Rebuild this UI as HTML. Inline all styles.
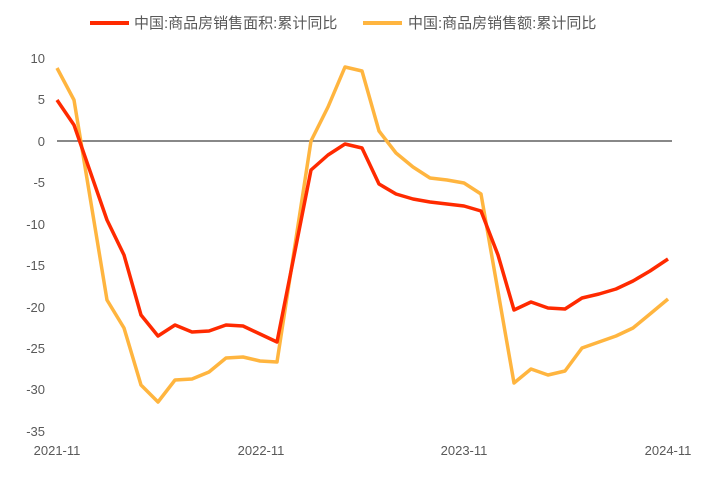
<!DOCTYPE html>
<html><head><meta charset="utf-8"><style>
body{margin:0;background:#fff;}
svg text{font-family:"Liberation Sans","Noto Sans CJK SC",sans-serif;fill:#595959;}
</style></head><body>
<svg width="704" height="483" xmlns="http://www.w3.org/2000/svg">
<rect width="704" height="483" fill="#fff"/>
<line x1="90" y1="23" x2="129" y2="23" stroke="#ff2a00" stroke-width="4"/>
<text x="134" y="28" font-size="15">中国:商品房销售面积:累计同比</text>
<line x1="363" y1="23" x2="402" y2="23" stroke="#ffb53f" stroke-width="4"/>
<text x="408" y="28" font-size="15">中国:商品房销售额:累计同比</text>
<g font-size="13" text-anchor="end">
<text x="45" y="63">10</text><text x="45" y="104">5</text><text x="45" y="146">0</text>
<text x="45" y="187">-5</text><text x="45" y="229">-10</text><text x="45" y="270">-15</text>
<text x="45" y="312">-20</text><text x="45" y="353">-25</text><text x="45" y="394">-30</text>
<text x="45" y="436">-35</text></g>
<g font-size="13" text-anchor="middle">
<text x="57" y="455">2021-11</text><text x="261" y="455">2022-11</text>
<text x="464" y="455">2023-11</text><text x="668" y="455">2024-11</text></g>
<line x1="57" y1="141" x2="672" y2="141" stroke="#404040" stroke-width="1.3"/>
<polyline fill="none" stroke="#ffb53f" stroke-width="3.5" stroke-linejoin="round" points="57,68 74,100 107,300 124,328 141,385 158,402 175,380 192,379 209,372 226,358 243,357 260,361 277,362 311,141 328,107 345,67 362,71 379,131 396,153 413,167 430,178 447,180 464,183 481,194 514,383 531,369 548,375 565,371 582,348 599,342 616,336 633,328 650,314 668,299"/>
<polyline fill="none" stroke="#ff2a00" stroke-width="3.5" stroke-linejoin="round" points="57,100 74,125 107,220 124,255 141,315 158,336 175,325 192,332 209,331 226,325 243,326 260,334 277,342 311,170 328,155 345,144 362,148 379,184 396,194 413,199 430,202 447,204 464,206 481,211 498,255 514,310 531,302 548,308 565,309 582,298 599,294 616,289 633,281 650,271 668,259"/>
</svg>
</body></html>
